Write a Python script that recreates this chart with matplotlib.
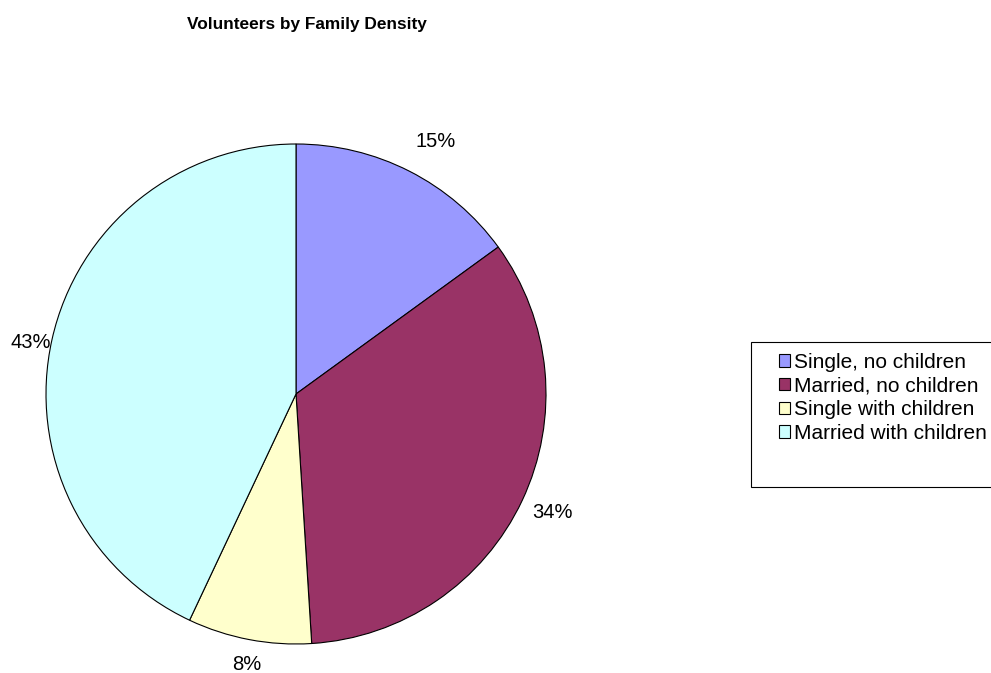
import matplotlib.pyplot as plt
from matplotlib.patches import Rectangle

plt.rcParams['font.family'] = ['Liberation Sans', 'DejaVu Sans']

# family type shares (percent)
groups = ['Single, no children', 'Married, no children',
          'Single with children', 'Married with children']
shares = [15, 34, 8, 43]
colors = ['#9999FF', '#993366', '#FFFFCC', '#CCFFFF']

W, H = 991, 673
fig = plt.figure(figsize=(W / 100, H / 100), dpi=100)

# pie area: centre (296, 394) px, radius 250 px
cx, cy, r = 296, 394, 250
ax = fig.add_axes([(cx - r) / W, (H - cy - r) / H, 2 * r / W, 2 * r / H])
wedges, texts, autotexts = ax.pie(
    shares, colors=colors, startangle=90, counterclock=False,
    autopct='%1.0f%%', pctdistance=1.1,
    wedgeprops=dict(edgecolor='black', linewidth=0.8),
    textprops=dict(fontsize=14.5))
ax.set_xlim(-1, 1)
ax.set_ylim(-1, 1)
ax.set_aspect('equal')

# small nudges (in pixels, x right / y up) for the percentage labels
nudges = [(15, 7), (8, -1), (2, 0), (3, -8)]
for t, (dx, dy) in zip(autotexts, nudges):
    x, y = t.get_position()
    t.set_position((x + dx / r, y + dy / r))

fig.text(307 / W, 1 - 24 / H, 'Volunteers by Family Density',
         ha='center', va='center', fontsize=12.4, fontweight='bold')

# legend frame runs off the right edge
fig.patches.append(Rectangle((751 / W, 1 - 487 / H), 260 / W, 145 / H,
                             transform=fig.transFigure, facecolor='white',
                             edgecolor='black', linewidth=0.8))
handles = [Rectangle((0, 0), 1, 1, facecolor=c, edgecolor='black', linewidth=0.8)
           for c in colors]
fig.legend(handles, groups, loc='upper left',
           bbox_to_anchor=(779 / W, 1 - 353 / H), frameon=False,
           fontsize=15, handlelength=0.55, handleheight=0.55,
           handletextpad=0.15, labelspacing=0.22, borderpad=0, borderaxespad=0)

fig.savefig('out.png', dpi=100)
